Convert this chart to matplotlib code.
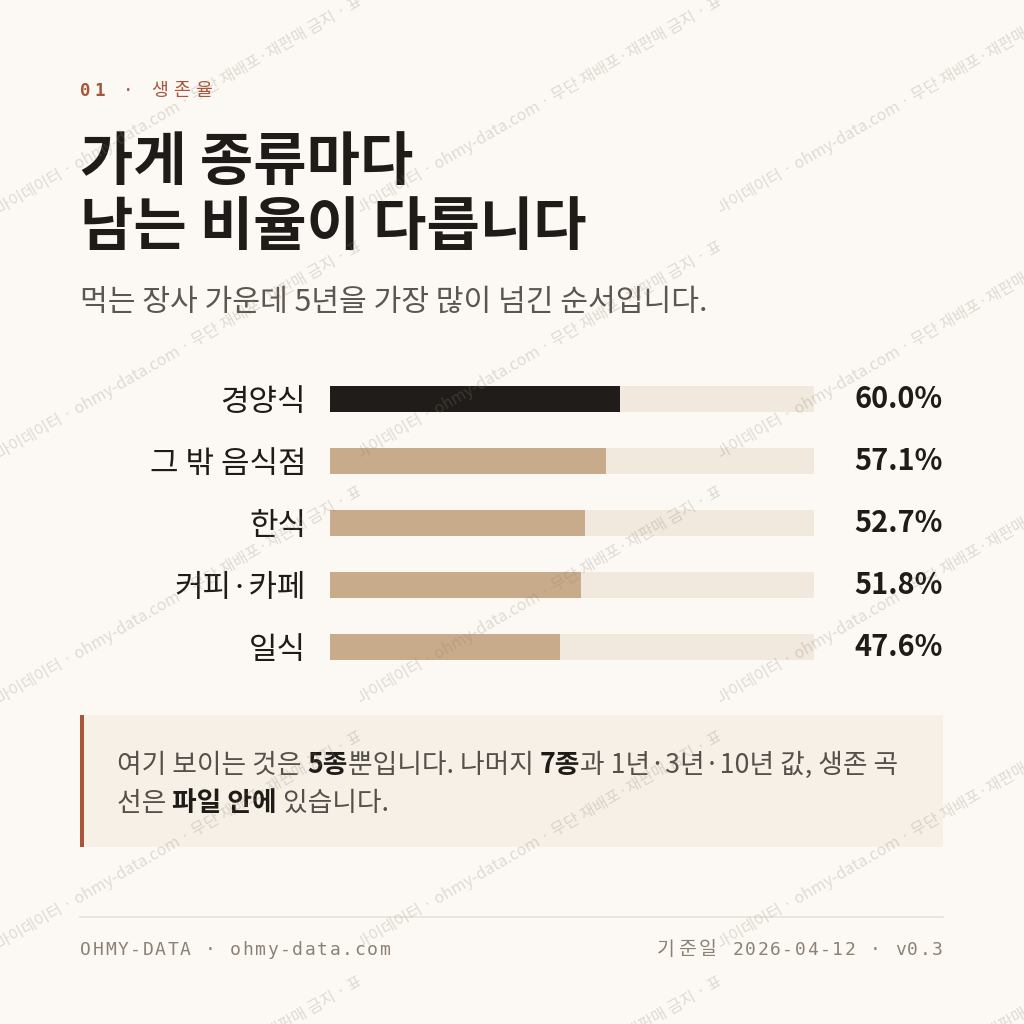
import matplotlib
matplotlib.use("Agg")
import matplotlib.pyplot as plt
from matplotlib.patches import Rectangle
from matplotlib.transforms import Bbox
import matplotlib.transforms as mtransforms

# ---------------- data ----------------
categories = ["경양식", "그 밖 음식점", "한식", "커피·카페", "일식"]
values = [60.0, 57.1, 52.7, 51.8, 47.6]
highlight_index = 0

eyebrow_num = "01"
eyebrow_word = "생존율"
title_lines = ["가게 종류마다", "남는 비율이 다릅니다"]
subtitle = "먹는 장사 가운데 5년을 가장 많이 넘긴 순서입니다."
note_line1 = [("여기 보이는 것은 ", False), ("5종", True), ("뿐입니다. 나머지 ", False),
              ("7종", True), ("과 1년·3년·10년 값, 생존 곡", False)]
note_line2 = [("선은 ", False), ("파일 안에", True), (" 있습니다.", False)]
footer_left = "OHMY-DATA · ohmy-data.com"
footer_right = "기준일 2026-04-12 · v0.3"
watermark = "마이데이터 · ohmy-data.com · 무단 재배포·재판매 금지 · 표시"

# ---------------- style ----------------
KR = "Noto Sans CJK KR"
MONO = "DejaVu Sans Mono"
BG = "#fcf9f4"
TRACK = "#f1e9dd"
TAN = "#c8ab8a"
DARK = "#201c19"
RUST = "#a8553a"
INK = "#1f1b18"
GREY = "#5c5650"
NOTE = "#55504a"
NOTE_BG = "#f7f0e7"
FOOT = "#8c8175"
RULE = "#e8e2d9"
PX = 0.72  # points per pixel at 100 dpi

plt.rcParams["font.family"] = [KR, "DejaVu Sans"]

fig = plt.figure(figsize=(10.24, 10.24), dpi=100, facecolor=BG)
bg = fig.add_axes([0, 0, 1, 1], zorder=0)
bg.set_xlim(0, 1024)
bg.set_ylim(1024, 0)
bg.axis("off")
bg.patch.set_alpha(0)


def kr_text(x, y, s, size, color, weight="normal", ha="left"):
    return bg.text(x, y, s, fontsize=size * PX, family=[KR, "DejaVu Sans"],
                   weight=weight, color=color, ha=ha, va="baseline")


def is_wide(ch):
    return ord(ch) >= 0x1100


def tracked(x, y, s, size, track, color, weight_ascii="normal", weight_kr="normal",
            measure_only=False, kr_scale=1.0):
    adv_mono = 0.6021 * size
    start = x
    for ch in s:
        if is_wide(ch):
            if not measure_only:
                bg.text(x, y, ch, fontsize=size * kr_scale * PX, family=[KR], weight=weight_kr,
                        color=color, ha="left", va="baseline")
            x += size * kr_scale + track
        else:
            if not measure_only and ch != " ":
                bg.text(x, y, ch, fontsize=size * PX, family=[MONO], weight=weight_ascii,
                        color=color, ha="left", va="baseline")
            x += adv_mono + track
    return x - start - track


# eyebrow
tracked(80, 96, eyebrow_num, 17.5, 3.7, RUST, weight_ascii="bold")
tracked(80 + 2 * (0.6021 * 17.5 + 3.7), 96, " · " + eyebrow_word, 17.5, 3.7, RUST, kr_scale=1.05)

# title + subtitle
kr_text(80, 180, title_lines[0], 58, INK, weight="bold")
kr_text(80, 245, title_lines[1], 58, INK, weight="bold")
kr_text(80, 311, subtitle, 30.2, GREY)

# ---------------- bars ----------------
ax = fig.add_axes([330 / 1024, (1024 - 678) / 1024, 484 / 1024, 310 / 1024], zorder=1)
ax.patch.set_alpha(0)
ypos = list(range(len(categories)))
ax.barh(ypos, [100] * len(categories), height=0.42, color=TRACK, linewidth=0)
colors = [DARK if i == highlight_index else TAN for i in ypos]
ax.barh(ypos, values, height=0.42, color=colors, linewidth=0)
ax.set_xlim(0, 100)
ax.set_ylim(len(categories) - 0.5, -0.5)
ax.set_yticks(ypos)
ax.set_yticklabels(categories, fontsize=31 * PX, color=INK, family=[KR, "DejaVu Sans"])
ax.tick_params(axis="y", length=0, pad=24 * PX)
ax.set_xticks([])
for sp in ax.spines.values():
    sp.set_visible(False)
blend = mtransforms.blended_transform_factory(ax.transAxes, ax.transData)
for i, v in zip(ypos, values):
    ax.text((943 - 330) / 484, i, f"{v:.1f}%", transform=blend, ha="right", va="center",
            fontsize=29 * PX, weight="bold", color=INK, family=[KR, "DejaVu Sans"])

# ---------------- note box ----------------
bg.add_patch(Rectangle((80, 715), 863, 132, facecolor=NOTE_BG, edgecolor="none", zorder=0.5))
bg.add_patch(Rectangle((80, 715), 4, 132, facecolor=RUST, edgecolor="none", zorder=0.6))

fig.canvas.draw()
renderer = fig.canvas.get_renderer()


def width_of(s, size, weight):
    t1 = bg.text(0, 0, "|" + s + "|", fontsize=size * PX, family=[KR, "DejaVu Sans"], weight=weight)
    t2 = bg.text(0, 0, "||", fontsize=size * PX, family=[KR, "DejaVu Sans"], weight=weight)
    w = t1.get_window_extent(renderer).width - t2.get_window_extent(renderer).width
    t1.remove()
    t2.remove()
    return w


def runs(x, y, parts, size):
    for s, b in parts:
        kr_text(x, y, s, size, INK if b else NOTE, weight="bold" if b else "normal")
        x += width_of(s, size, "bold" if b else "normal")


runs(117, 773, note_line1, 26.8)
runs(117, 811, note_line2, 26.8)

# ---------------- footer ----------------
bg.plot([80, 943], [917, 917], color=RULE, lw=1.2)
tracked(80, 955, footer_left, 18, 1.65, FOOT)
wr = tracked(0, 955, footer_right, 18, 1.65, FOOT, measure_only=True, kr_scale=1.08)
tracked(943 - wr, 955, footer_right, 18, 1.65, FOOT, kr_scale=1.08)

# ---------------- watermark overlay ----------------
wm = fig.add_axes([0, 0, 1, 1], zorder=5)
wm.set_xlim(0, 1024)
wm.set_ylim(1024, 0)
wm.axis("off")
wm.patch.set_alpha(0)
for c in range(3):
    box = Bbox([[c * 360, 0], [c * 360 + 360, 1024]])  # display pixels
    for ry in [215, 460, 705, 950, 1195]:
        t = wm.text(c * 360, ry, watermark, rotation=30, rotation_mode="anchor",
                    ha="left", va="baseline", fontsize=16 * PX, color="#8c8073", alpha=0.26,
                    family=[KR, "DejaVu Sans"], clip_on=True)
        t.set_clip_box(box)
        t.set_clip_path(None)

fig.savefig("out.png", dpi=100, facecolor=BG)
